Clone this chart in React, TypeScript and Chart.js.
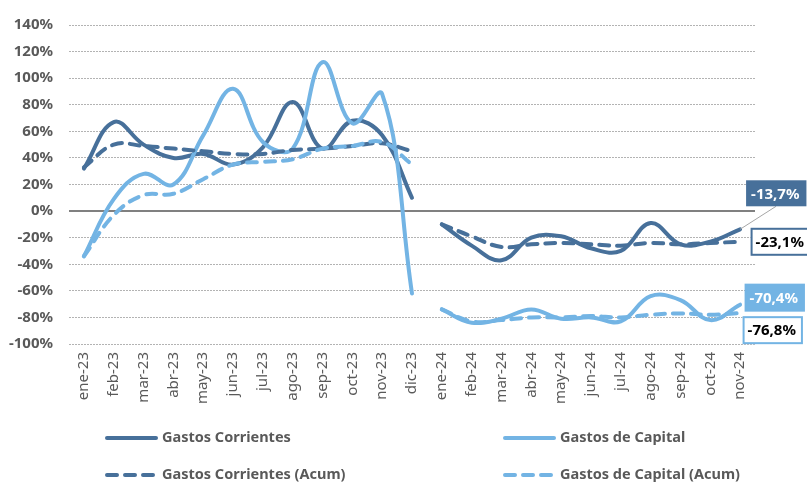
import React, { useEffect, useRef } from 'react';
import { Chart, registerables } from 'chart.js';

Chart.register(...registerables);

// ---------- data ----------
const categories = [
  'ene-23', 'feb-23', 'mar-23', 'abr-23', 'may-23', 'jun-23', 'jul-23', 'ago-23', 'sep-23', 'oct-23', 'nov-23', 'dic-23',
  'ene-24', 'feb-24', 'mar-24', 'abr-24', 'may-24', 'jun-24', 'jul-24', 'ago-24', 'sep-24', 'oct-24', 'nov-24',
];

const gastosCorrientes = [32, 67, 50, 40, 43, 35, 48, 82, 47, 68, 57, 10, -10, -26, -37, -20, -19, -28, -30, -9, -25, -23, -13.7];
const gastosCapital = [-34, 9, 28, 20, 57, 92, 52, 47, 112, 66, 88, -62, -74, -84, -81, -74, -81, -80, -83, -64, -67, -82, -70.4];
const gastosCorrientesAcum = [33, 50, 49, 47, 45, 43, 43, 46, 47, 49, 51, 45, -10, -19, -27, -25, -24, -25, -26, -24, -25, -24, -23.1];
const gastosCapitalAcum = [-34, -3, 12, 13, 24, 35, 37, 39, 47, 49, 52, 35, -74, -83, -82, -80, -80, -79, -80, -78, -77, -78, -76.8];

const seriesNames = ['Gastos Corrientes', 'Gastos de Capital', 'Gastos Corrientes (Acum)', 'Gastos de Capital (Acum)'];

const yMin = -100;
const yMax = 140;
const yStep = 20;
const yearBreak = 12; // first index of 2024

// ---------- styles ----------
const DARK = '#47709a';
const LIGHT = '#73b4e4';
const GREY_TEXT = '#595959';
const FONT = "'Noto Sans', 'DejaVu Sans', sans-serif";

const part = (arr: number[], from: number, to: number) =>
  arr.map((v, i) => (i >= from && i < to ? v : null));

const fmt = (v: number) => v.toFixed(1).replace('.', ',') + '%';

export default function App() {
  const ref = useRef<HTMLCanvasElement | null>(null);

  useEffect(() => {
    if (!ref.current) return;

    const series = [
      { name: seriesNames[0], data: gastosCorrientes, color: DARK, dashed: false },
      { name: seriesNames[1], data: gastosCapital, color: LIGHT, dashed: false },
      { name: seriesNames[2], data: gastosCorrientesAcum, color: DARK, dashed: true },
      { name: seriesNames[3], data: gastosCapitalAcum, color: LIGHT, dashed: true },
    ];

    const datasets: any[] = [];
    // later series drawn on top -> put them first
    [...series].reverse().forEach((s) => {
      [[0, yearBreak], [yearBreak, categories.length]].forEach(([a, b]) => {
        datasets.push({
          label: s.name,
          data: part(s.data, a, b),
          borderColor: s.color,
          backgroundColor: s.color,
          borderWidth: 4,
          borderDash: s.dashed ? [10, 8] : [],
          borderCapStyle: 'round',
          borderJoinStyle: 'round',
          pointRadius: 0,
          tension: 0.4,
          fill: false,
          _series: s.name,
          _part: a === 0 ? 0 : 1,
        });
      });
    });

    const endLabels = {
      id: 'endLabels',
      afterDatasetsDraw(chart: any) {
        const ctx = chart.ctx;
        const last = categories.length - 1;
        const specs = [
          { name: seriesNames[0], filled: true, color: DARK, dx: 6, top: -49, h: 26, leader: true },
          { name: seriesNames[2], filled: false, color: DARK, dx: 10.5, top: -14, h: 28, leader: false },
          { name: seriesNames[1], filled: true, color: LIGHT, dx: 4.5, top: -21, h: 28, leader: false },
          { name: seriesNames[3], filled: false, color: LIGHT, dx: 2.5, top: 3, h: 28, leader: false },
        ];
        ctx.save();
        ctx.font = `bold 15px ${FONT}`;
        specs.forEach((sp) => {
          const idx = chart.data.datasets.findIndex((d: any) => d._series === sp.name && d._part === 1);
          const meta = chart.getDatasetMeta(idx);
          const pt = meta.data[last];
          const value = chart.data.datasets[idx].data[last];
          const text = fmt(value);
          const tw = ctx.measureText(text).width;
          const bx = pt.x + sp.dx;
          const by = pt.y + sp.top;
          const bw = tw + 12;
          if (sp.leader) {
            ctx.strokeStyle = '#a6a6a6';
            ctx.lineWidth = 1;
            ctx.setLineDash([]);
            ctx.beginPath();
            ctx.moveTo(pt.x, pt.y);
            ctx.lineTo(bx + 30, by + sp.h);
            ctx.stroke();
          }
          if (sp.filled) {
            ctx.fillStyle = sp.color;
            ctx.fillRect(bx, by, bw, sp.h);
            ctx.fillStyle = '#ffffff';
          } else {
            ctx.fillStyle = '#ffffff';
            ctx.fillRect(bx, by, bw, sp.h);
            ctx.strokeStyle = sp.color;
            ctx.lineWidth = 2;
            ctx.setLineDash([]);
            ctx.strokeRect(bx + 1, by + 1, bw - 2, sp.h - 2);
            ctx.fillStyle = '#000000';
          }
          ctx.textBaseline = 'middle';
          ctx.textAlign = 'left';
          ctx.fillText(text, bx + 5, by + sp.h / 2 + 1);
        });
        ctx.restore();
      },
    };

    const customLegend = {
      id: 'customLegend',
      afterDraw(chart: any) {
        const ctx = chart.ctx;
        const items = [
          { name: seriesNames[0], color: DARK, dashed: false, x: 105, y: 438 },
          { name: seriesNames[1], color: LIGHT, dashed: false, x: 503, y: 438 },
          { name: seriesNames[2], color: DARK, dashed: true, x: 105, y: 475 },
          { name: seriesNames[3], color: LIGHT, dashed: true, x: 503, y: 475 },
        ];
        ctx.save();
        items.forEach((it) => {
          ctx.strokeStyle = it.color;
          ctx.lineWidth = 4;
          ctx.lineCap = 'round';
          ctx.setLineDash(it.dashed ? [10, 8] : []);
          ctx.beginPath();
          ctx.moveTo(it.x + 2, it.y);
          ctx.lineTo(it.x + 51, it.y);
          ctx.stroke();
          ctx.setLineDash([]);
          ctx.fillStyle = GREY_TEXT;
          ctx.font = `bold 14.5px ${FONT}`;
          ctx.textBaseline = 'middle';
          ctx.textAlign = 'left';
          ctx.fillText(it.name, it.x + 57, it.y);
        });
        ctx.restore();
      },
    };

    const chart = new Chart(ref.current, {
      type: 'line',
      data: { labels: categories, datasets },
      options: {
        responsive: false,
        animation: false,
        devicePixelRatio: 1,
        layout: { padding: { top: 22, right: 52, left: 0, bottom: 0 } },
        plugins: {
          legend: { display: false },
          tooltip: { enabled: false },
        },
        scales: {
          x: {
            offset: true,
            grid: { display: false, drawTicks: false },
            border: { display: false },
            ticks: {
              autoSkip: false,
              maxRotation: 90,
              minRotation: 90,
              padding: 8,
              color: GREY_TEXT,
              font: { family: FONT, size: 15 },
            },
            afterFit: (scale: any) => {
              scale.height = 138;
            },
          },
          y: {
            min: yMin,
            max: yMax,
            ticks: {
              stepSize: yStep,
              padding: 16,
              color: GREY_TEXT,
              font: { family: FONT, size: 15, weight: 'bold' },
              callback: (v: any) => `${v}%`,
            },
            grid: {
              drawTicks: false,
              color: (c: any) => (c.tick && c.tick.value === 0 ? '#808080' : '#b3b3b3'),
              lineWidth: (c: any) => (c.tick && c.tick.value === 0 ? 2 : 1),
            },
            border: {
              display: false,
              dash: (c: any) => (c.tick && c.tick.value === 0 ? [] : [2, 1]),
            },
            afterFit: (scale: any) => {
              scale.width = 69;
            },
          },
        },
      },
      plugins: [endLabels, customLegend],
    });

    return () => chart.destroy();
  }, []);

  return (
    <div style={{ position: 'absolute', left: 0, top: 0, width: 807, height: 482, background: '#ffffff' }}>
      <canvas ref={ref} width={807} height={482} style={{ display: 'block' }} />
    </div>
  );
}
